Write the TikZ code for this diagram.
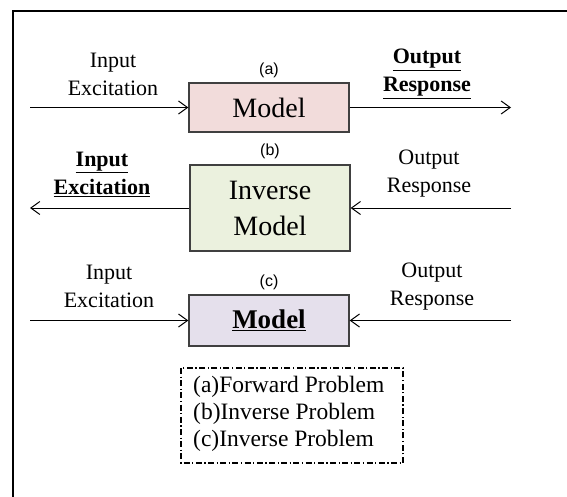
\documentclass[tikz,border=0pt]{standalone}
\usepackage{fontspec}
\setmainfont{Liberation Serif}
\newfontfamily\tagfont{Liberation Sans}
\usetikzlibrary{arrows.meta}
\definecolor{fwdfill}{HTML}{F2DCDB}
\definecolor{invfill}{HTML}{EBF1DE}
\definecolor{modfill}{HTML}{E5E0EC}
\definecolor{boxline}{HTML}{404040}
\tikzset{
  modelbox/.style={draw=boxline, line width=1.3pt, minimum width=160pt, inner sep=0pt, align=center,
    font=\fontsize{28}{36}\selectfont},
  lbl/.style={align=center, inner sep=0pt, font=\fontsize{22}{28}\selectfont},
  tag/.style={inner sep=0pt, font=\tagfont\fontsize{16}{18}\selectfont},
  flow/.style={line width=1pt, -{Straight Barb[length=9pt,width=13pt,line width=1pt]}},
  legendframe/.style={line width=1.1pt, dash pattern=on 6pt off 2.5pt on 1.2pt off 2.5pt},
}
\begin{document}
\begin{tikzpicture}[x=1pt,y=-1pt]
  \useasboundingbox (0,0) rectangle (567,497);
  % outer frame (left and top edges)
  \draw[line width=2.5pt] (13,497) -- (13,11) -- (567,11);

  % (a) forward model
  \node[modelbox, fill=fwdfill, minimum height=49pt] (ma) at (269,107.5) {Model};
  \node[tag] (ta) at (269,70) {(a)};
  \node[lbl] (ina) at (113,74) {Input\\Excitation};
  \node[lbl] (outa) at (427,74) {\underline{\textbf{Output}}\\\underline{\textbf{Response}}};
  \coordinate (a0) at (30,107.5);
  \coordinate (a1) at (511,107.5);
  \draw[flow] (a0) -- (ma.west);
  \draw[flow] (ma.east) -- (a1);

  % (b) inverse model
  \node[modelbox, fill=invfill, minimum height=86pt] (mb) at (270,208) {Inverse\\Model};
  \node[tag] (tb) at (270,151) {(b)};
  \node[lbl] (inb) at (102,174) {\underline{\textbf{Input}}\\\underline{\textbf{Excitation}}};
  \node[lbl] (outb) at (429,174) {Output\\Response};
  \coordinate (b0) at (30,208);
  \coordinate (b1) at (511,208);
  \draw[flow] (mb.west) -- (b0);
  \draw[flow] (b1) -- (mb.east);

  % (c) model identification
  \node[modelbox, fill=modfill, minimum height=51pt, font=\fontsize{27}{34}\selectfont] (mc) at (269,320.5) {\underline{\textbf{Model}}};
  \node[tag] (tc) at (269,282) {(c)};
  \node[lbl] (inc) at (109,286) {Input\\Excitation};
  \node[lbl] (outc) at (432,287) {Output\\Response};
  \coordinate (c0) at (30,320.5);
  \coordinate (c1) at (511,320.5);
  \draw[flow] (c0) -- (mc.west);
  \draw[flow] (c1) -- (mc.east);

  % legend
  \draw[legendframe] (181,368) rectangle (403,463);
  \node[anchor=north west, align=left, inner sep=0pt, font=\fontsize{23.5}{27}\selectfont] (leg) at (193,376)
    {(a)Forward Problem\\(b)Inverse Problem\\(c)Inverse Problem};
\end{tikzpicture}
\end{document}
